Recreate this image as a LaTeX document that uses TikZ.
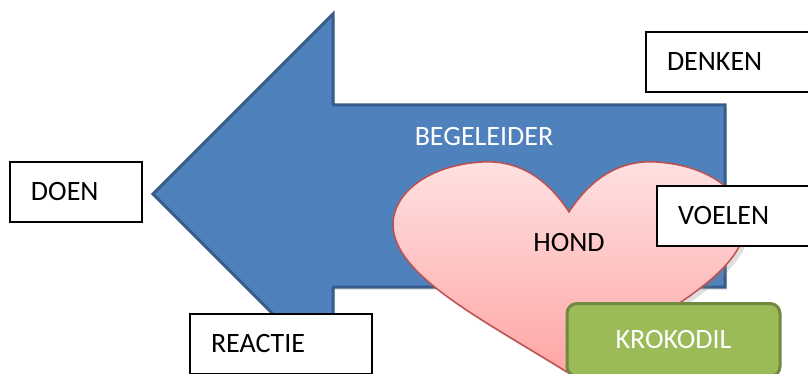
\documentclass[tikz,border=0pt]{standalone}
\usepackage{fontspec}
\setmainfont{Carlito}
\usetikzlibrary{shadows}

\definecolor{arrowblue}{HTML}{4F81BD}
\definecolor{arrowedge}{HTML}{385D8A}
\definecolor{heartedge}{HTML}{C0504D}
\definecolor{hearttop}{HTML}{FFE1E1}
\definecolor{heartbottom}{HTML}{FFA6A6}
\definecolor{crocgreen}{HTML}{9BBB59}
\definecolor{crocedge}{HTML}{71893F}

\begin{document}
\begin{tikzpicture}[x=0.5pt, y=-0.5pt,
    labelbox/.style={draw, line width=0.75pt, fill=white, align=left,
      inner xsep=10.5pt, inner ysep=0pt, minimum height=30pt,
      font=\fontsize{14}{16}\selectfont},
    plaintext/.style={font=\fontsize{14}{16}\selectfont, inner sep=0pt}]
    \useasboundingbox (0,0) rectangle (808,374);

    % Big arrow pointing left
    \draw[fill=arrowblue, draw=arrowedge, line width=1.5pt, line join=miter,
          drop shadow={opacity=0.2, shadow xshift=1pt, shadow yshift=-1.5pt}]
      (153,194) -- (333,14) -- (333,105) -- (725,105) -- (725,287)
      -- (333,287) -- (333,374) -- cycle;

    % Heart
    \draw[top color=hearttop, bottom color=heartbottom, draw=heartedge, line width=0.75pt,
          drop shadow={opacity=0.25, shadow xshift=2pt, shadow yshift=-2pt}]
      (569,212) .. controls (545,175) and (515,160) .. (482,162)
      .. controls (430,165) and (393,192) .. (393,225)
      .. controls (394,275) and (480,318) .. (567,372)
      .. controls (654,318) and (744,275) .. (745,225)
      .. controls (745,192) and (708,165) .. (656,162)
      .. controls (623,160) and (593,175) .. (569,212) -- cycle;

    \node[plaintext, text=white] (begeleider) at (484,137) {BEGELEIDER};
    \node[plaintext] (hond) at (569,243) {HOND};

    % Text boxes
    \node[labelbox, text width=45pt] (doen) at (76,192) {DOEN};
    \node[labelbox, text width=69pt] (denken) at (736,62) {DENKEN};
    \node[labelbox, text width=69pt] (voelen) at (747,216) {VOELEN};
    \node[labelbox, text width=70pt] (reactie) at (281,344) {REACTIE};

    % Green box
    \node[fill=crocgreen, draw=crocedge, line width=1.5pt, rounded corners=5pt,
          minimum width=106.5pt, minimum height=36.5pt, text=white,
          font=\fontsize{14}{16}\selectfont] (krokodil) at (673.5,340) {KROKODIL};
\end{tikzpicture}
\end{document}
